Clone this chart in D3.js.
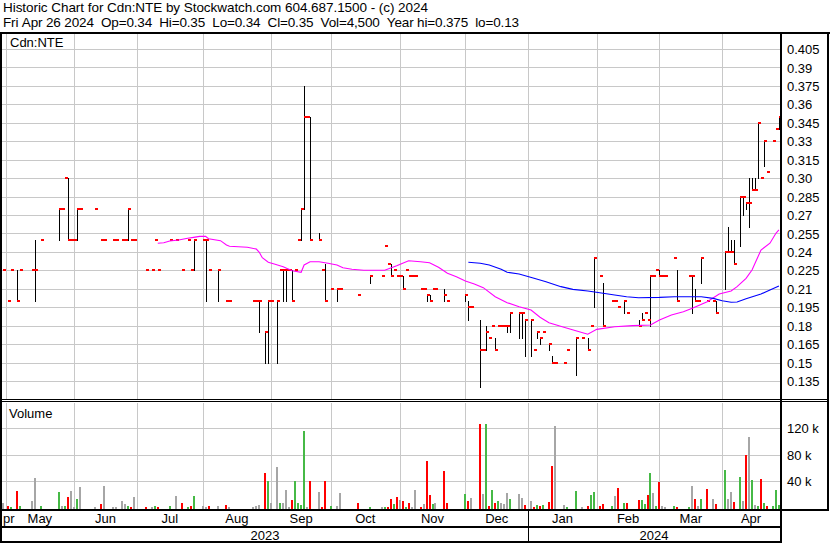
<!DOCTYPE html>
<html><head><meta charset="utf-8">
<script src="https://cdn.jsdelivr.net/npm/d3@7"></script>
<style>
body{margin:0;background:#fff;}
svg text{font-family:"Liberation Sans",Arial,sans-serif;fill:#000;}
</style></head><body>
<svg id="c" width="830" height="543"></svg>
<script>
// ---------------- DATA ----------------
// trading day = weekday number counted from Mon 2023-05-01 (=0); -1 = Fri 2023-04-28
const tradeDay = [
 -1,1,2,4,5,9,10,12,18,19,
 20,21,22,23,24,25,30,32,33,36,
 37,39,40,41,42,43,47,49,50,51,
 55,57,59,61,62,63,66,67,68,71,
 74,75,83,84,85,87,88,89,91,92,
 93,94,95,96,97,98,99,100,101,102,
 105,106,107,109,111,112,118,122,126,127,
 128,129,130,131,132,133,134,135,136,137,
 139,140,141,142,143,144,147,148,154,155,
 156,159,160,161,162,163,164,165,166,167,
 168,169,172,173,174,176,177,178,179,180,
 182,183,184,187,188,191,193,195,196,197,
 199,200,203,204,205,207,208,212,213,214,
 215,216,217,218,219,220,221,224,225,229,
 230,231,232,233,235,237,238,241,242,243,
 244,246,247,248,249,250,251,252,253,254,
 255,257,258,259];
const high = [
 .225,.20,.225,.225,.225,.225,.25,.25,.275,.275,
 .30,.30,.25,.25,.275,.275,.275,.25,.25,.25,
 .25,.25,.25,.275,.25,.25,.225,.225,.25,.225,
 .25,.25,.225,.25,.225,.25,.25,.25,.225,.225,
 .20,.20,.20,.20,.20,.175,.20,.20,.20,.225,
 .225,.225,.225,.225,.225,.25,.275,.375,.35,.35,
 .255,.225,.23,.21,.21,.21,.205,.22,.22,.245,
 .23,.23,.225,.22,.22,.22,.225,.22,.22,.22,
 .21,.21,.205,.205,.21,.21,.21,.20,.205,.20,
 .195,.185,.16,.18,.17,.18,.17,.18,.18,.18,
 .18,.19,.19,.19,.185,.185,.16,.175,.17,.175,
 .165,.155,.15,.15,.16,.17,.17,.17,.18,.235,
 .22,.215,.20,.20,.195,.20,.19,.185,.19,.19,
 .185,.22,.22,.225,.225,.22,.22,.235,.225,.22,
 .22,.21,.20,.235,.20,.20,.20,.24,.26,.25,
 .25,.285,.285,.28,.30,.30,.30,.345,.30,.33,
 .305,.33,.34,.35];
const low = [
 .225,.20,.225,.20,.225,.225,.20,.25,.25,.275,
 .30,.25,.25,.25,.25,.275,.275,.25,.25,.25,
 .25,.25,.25,.25,.25,.25,.225,.225,.25,.225,
 .25,.25,.225,.25,.225,.225,.25,.20,.225,.20,
 .20,.20,.20,.20,.175,.15,.15,.20,.15,.225,
 .20,.20,.225,.20,.225,.25,.25,.275,.35,.25,
 .25,.225,.20,.21,.20,.21,.205,.215,.22,.245,
 .23,.22,.225,.22,.22,.21,.225,.22,.22,.22,
 .21,.21,.20,.20,.21,.21,.20,.20,.20,.185,
 .195,.13,.16,.16,.17,.18,.16,.18,.18,.18,
 .175,.175,.17,.17,.155,.155,.16,.17,.165,.175,
 .16,.15,.15,.15,.16,.14,.17,.16,.18,.195,
 .22,.18,.20,.20,.195,.19,.19,.18,.185,.19,
 .185,.18,.22,.225,.22,.22,.22,.235,.20,.22,
 .19,.20,.20,.215,.20,.20,.19,.21,.24,.24,
 .23,.245,.27,.275,.26,.29,.29,.30,.30,.31,
 .305,.33,.34,.34];
const close = [
 .225,.20,.225,.20,.225,.225,.225,.25,.275,.275,
 .30,.25,.25,.25,.275,.275,.275,.25,.25,.25,
 .25,.25,.25,.275,.25,.25,.225,.225,.25,.225,
 .25,.25,.225,.25,.225,.25,.25,.25,.225,.225,
 .20,.20,.20,.20,.20,.175,.20,.20,.20,.225,
 .225,.225,.225,.20,.225,.25,.275,.35,.35,.25,
 .25,.225,.20,.21,.21,.21,.205,.22,.22,.245,
 .23,.22,.225,.22,.22,.21,.225,.22,.22,.22,
 .21,.21,.205,.20,.21,.21,.205,.20,.205,.195,
 .195,.16,.16,.175,.17,.18,.16,.18,.18,.18,
 .18,.19,.19,.19,.185,.185,.16,.175,.17,.175,
 .165,.15,.15,.15,.16,.17,.17,.16,.18,.235,
 .22,.18,.20,.20,.195,.20,.19,.18,.185,.19,
 .185,.22,.22,.225,.22,.22,.22,.235,.20,.22,
 .22,.20,.20,.235,.20,.20,.19,.24,.24,.24,
 .23,.285,.285,.28,.28,.29,.29,.345,.30,.33,
 .305,.33,.34,.35];
const volume = [
 7000,2000,1500,25000,2000,9700,44600,2000,23500,2000,
 2000,15800,25000,1500,12800,31000,300,5000,32800,300,
 300,9700,5500,2700,1500,15800,300,300,3000,1000,
 2000,17400,6600,300,3000,17400,2500,300,2500,2500,
 3500,300,1000,2000,3500,51700,40500,7000,61000,7000,
 7000,26600,300,11700,39400,7000,3500,116000,300,40500,
 24000,1000,40500,2500,2500,22000,6600,1000,300,300,
 1000,12800,5000,15800,11200,9700,300,6600,300,26600,
 1000,5000,69700,19000,5000,6600,55800,6600,20500,9700,
 14300,126600,20500,126600,2000,26600,6600,9700,6600,5000,
 22000,12800,20500,14300,3500,9700,300,3500,2500,3500,
 8000,63500,123500,3500,1000,25000,1000,2000,19000,23500,
 2500,5000,2000,17400,29700,6600,6600,11000,11000,5000,
 19000,52800,22000,2000,37900,2000,300,2500,1000,1000,
 32800,12800,2500,12800,28000,12800,5000,57400,12800,24000,
 8000,46600,9700,79000,106600,42000,3500,2500,43500,6600,
 2500,2500,26600,4500];

// moving averages (day, value)
const maShortDay = [51,53,55,58,61,63,65,67,68,72,74,75,81,84,85,86,88,90,93,96,99,100,102,105,108,111,113,116,120,127,131,135,139,142,145,148,151,154,157,160,164,168,172,176,179,182,187,191,195,198,204,210,216,219,223,227,230,235,239,243,245,248,250,253,256,258,259];
const maShortVal = [.2470,.2474,.2488,.2496,.2510,.2518,.2526,.2526,.2507,.2491,.2456,.2445,.2437,.2423,.2396,.2352,.2315,.2301,.2279,.2247,.2234,.2293,.2320,.2320,.2307,.2293,.2271,.2258,.2250,.2250,.2287,.2328,.2320,.2312,.2274,.2226,.2198,.2163,.2139,.2109,.2035,.1987,.1954,.1927,.1868,.1824,.1787,.1759,.1730,.1770,.1791,.1800,.1805,.1846,.1887,.1913,.1941,.1995,.2057,.2082,.2117,.2185,.2252,.2415,.2470,.2551,.2578];
const maLongDay = [155,157,159,162,166,168,172,177,181,186,190,195,199,204,208,212,219,224,233,237,240,243,245,248,253,256,259];
const maLongVal = [.2315,.2312,.2307,.2293,.2258,.2234,.2220,.2185,.2157,.2117,.2095,.2082,.2068,.2049,.2035,.2027,.2030,.2035,.2035,.2022,.2003,.1990,.1992,.2019,.2057,.2090,.2122];

// axes
const priceTicks = [0.405,0.39,0.375,0.36,0.345,0.33,0.315,0.30,0.285,0.27,0.255,0.24,0.225,0.21,0.195,0.18,0.165,0.15,0.135];
const priceTickLabels = ["0.405","0.39","0.375","0.36","0.345","0.33","0.315","0.30","0.285","0.27","0.255","0.24","0.225","0.21","0.195","0.18","0.165","0.15","0.135"];
const volTicks = [40000,80000,120000];
const volTickLabels = ["40 k","80 k","120 k"];
const monthNames = ["pr","May","Jun","Jul","Aug","Sep","Oct","Nov","Dec","Jan","Feb","Mar","Apr"];
const monthStartDay = [-20,0,23,44,66,89,109,132,154,175,198,219,240];
const yearNames = ["2023","2024"];
const yearStartDay = [-20,175];
const title1 = "Historic Chart for Cdn:NTE by Stockwatch.com 604.687.1500 - (c) 2024";
const title2 = "Fri Apr 26 2024  Op=0.34  Hi=0.35  Lo=0.34  Cl=0.35  Vol=4,500  Year hi=0.375  lo=0.13";
const symbolLabel = "Cdn:NTE";
const volumeLabel = "Volume";

// ---------------- DRAW ----------------
const svg = d3.select("#c");
const plotL = 2, plotR = 780, priceTop = 34, priceBot = 399, volTop = 403, volBot = 509;
const x = d3.scaleLinear().domain([0, 259]).range([5.5, 778.9]);
const yP = d3.scaleLinear().domain([0.135, 0.405]).range([381, 48.9]);
const yV = d3.scaleLinear().domain([0, 120000]).range([507.5, 428.3]);
const grid = "#c8c8c8", RED = "#ff0000", GREEN = "#46b946", GRAY = "#a6a6a6";
const FONT = '"Liberation Sans",Arial,sans-serif';

svg.append("rect").attr("width",830).attr("height",543).attr("fill","#fff");

const g = svg.append("g").attr("shape-rendering","crispEdges");
g.selectAll(".hp").data(priceTicks).join("rect")
  .attr("x",plotL).attr("width",plotR-plotL)
  .attr("y",d=>Math.round(yP(d))).attr("height",1).attr("fill",grid);
g.selectAll(".hv").data(volTicks).join("rect")
  .attr("x",plotL).attr("width",plotR-plotL)
  .attr("y",d=>Math.round(yV(d))).attr("height",1).attr("fill",grid);
const mg = monthStartDay.filter(d=>d>=0);
g.selectAll(".vp").data(mg).join("rect")
  .attr("x",d=>Math.round(x(d))).attr("width",1)
  .attr("y",priceTop).attr("height",priceBot-priceTop).attr("fill",grid);
g.selectAll(".vv").data(mg).join("rect")
  .attr("x",d=>Math.round(x(d))).attr("width",1)
  .attr("y",volTop).attr("height",volBot-volTop).attr("fill",grid);

const rows = tradeDay.map((d,i)=>({day:d, hi:high[i], lo:low[i], cl:close[i], v:volume[i],
  prev: i>0 ? close[i-1] : close[i]}));

g.selectAll(".vb").data(rows).join("rect")
  .attr("x",d=>Math.round(x(d.day))-1).attr("width",2)
  .attr("y",d=>Math.round(yV(d.v))).attr("height",d=>volBot-Math.round(yV(d.v)))
  .attr("fill",d=>d.cl>d.prev+1e-9?GREEN:(d.cl<d.prev-1e-9?RED:GRAY));

g.selectAll(".hl").data(rows.filter(d=>d.hi>d.lo)).join("rect")
  .attr("x",d=>Math.round(x(d.day))).attr("width",1)
  .attr("y",d=>Math.round(yP(d.hi))).attr("height",d=>Math.round(yP(d.lo))-Math.round(yP(d.hi))+1)
  .attr("fill","#000");
g.selectAll(".ct").data(rows).join("rect")
  .attr("x",d=>Math.round(x(d.day))).attr("width",3)
  .attr("y",d=>Math.round(yP(d.cl))-1).attr("height",2)
  .attr("fill",RED);

const line = d3.line().x(d=>x(d[0])).y(d=>yP(d[1]));
svg.append("path").attr("d",line(maShortDay.map((d,i)=>[d,maShortVal[i]])))
  .attr("fill","none").attr("stroke","#ff00ff").attr("stroke-width",1.1);
svg.append("path").attr("d",line(maLongDay.map((d,i)=>[d,maLongVal[i]])))
  .attr("fill","none").attr("stroke","#0000ff").attr("stroke-width",1.1);

// frame
const b = svg.append("g").attr("shape-rendering","crispEdges").attr("fill","#000");
b.append("rect").attr("x",0).attr("y",32).attr("width",830).attr("height",2);
b.append("rect").attr("x",0).attr("y",32).attr("width",2).attr("height",511);
b.append("rect").attr("x",plotR).attr("y",32).attr("width",2).attr("height",511);
b.append("rect").attr("x",827).attr("y",32).attr("width",2).attr("height",479);
b.append("rect").attr("x",0).attr("y",399).attr("width",829).attr("height",1);
b.append("rect").attr("x",0).attr("y",401).attr("width",829).attr("height",1);
b.append("rect").attr("x",0).attr("y",509).attr("width",829).attr("height",2);
b.append("rect").attr("x",0).attr("y",526).attr("width",782).attr("height",2);
b.append("rect").attr("x",0).attr("y",541).attr("width",782).attr("height",2);
b.append("rect").attr("x",Math.round(x(yearStartDay[1]))).attr("y",509).attr("width",1).attr("height",34);

// texts
const nb = s => s.replace(/ /g,"\u00A0");
const T = svg.append("g").style("font-size","13.5px");
T.append("text").attr("x",3).attr("y",11.5).attr("textLength",425).text(nb(title1));
T.append("text").attr("x",3).attr("y",26.5).attr("textLength",516).text(nb(title2));
T.append("text").attr("x",10).attr("y",47).style("font-size","13px").text(symbolLabel);
T.append("text").attr("x",9).attr("y",418).style("font-size","13px").text(volumeLabel);

const pa = svg.append("g").attr("transform",`translate(${plotR+5},0)`)
  .call(d3.axisRight(yP).tickValues(priceTicks).tickSize(0)
        .tickFormat((d,i)=>priceTickLabels[i]));
pa.select(".domain").remove();
pa.selectAll("text").attr("x",2).attr("dy","0.36em").style("font-size","13px")
  .style("font-family",FONT).attr("fill","#000");
const va = svg.append("g").attr("transform",`translate(${plotR+5},0)`)
  .call(d3.axisRight(yV).tickValues(volTicks).tickSize(0)
        .tickFormat((d,i)=>volTickLabels[i]));
va.select(".domain").remove();
va.selectAll("text").attr("x",2).attr("dy","0.36em").style("font-size","13px")
  .style("font-family",FONT).attr("fill","#000");

// month labels; the first month is only partly visible at the left edge
const ML = svg.append("g").style("font-size","13px");
monthNames.forEach((m,k)=>{
  if (monthStartDay[k] < 0) {
    ML.append("text").attr("x",plotL+1).attr("y",522.5).attr("text-anchor","start").text(m);
    return;
  }
  const a = x(monthStartDay[k]);
  const bb = k+1<monthStartDay.length ? x(monthStartDay[k+1]) : plotR;
  ML.append("text").attr("x",(a+bb)/2).attr("y",522.5).attr("text-anchor","middle").text(m);
});
yearNames.forEach((yy,k)=>{
  const a = Math.max(x(yearStartDay[k]), plotL);
  const bb = k+1<yearStartDay.length ? x(yearStartDay[k+1]) : plotR;
  ML.append("text").attr("x",(a+bb)/2).attr("y",539.5).attr("text-anchor","middle").text(yy);
});
</script></body></html>
